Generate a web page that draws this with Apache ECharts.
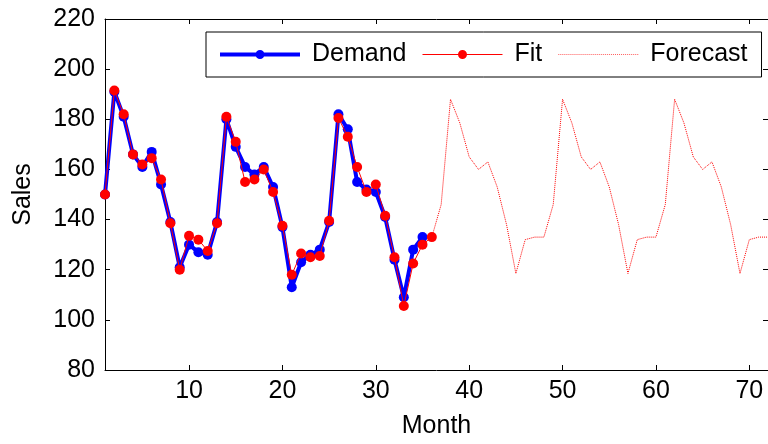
<!DOCTYPE html>
<html>
<head>
<meta charset="utf-8">
<script src="https://cdn.jsdelivr.net/npm/echarts@6/dist/echarts.min.js"></script>
<style>html,body{margin:0;padding:0;background:#fff;}#c{width:768px;height:444px;}</style>
</head>
<body>
<div id="c"></div>
<script>
// Data
var demandStart = 1;
var demand = [150, 191, 181, 166, 161, 167, 154, 139, 121, 130, 127, 126, 139, 180, 169, 161, 158, 161, 153, 137, 113, 123, 126, 128, 139, 182, 176, 155, 152, 151, 141, 124, 109, 128, 133];
var fitStart = 1;
var fit = [150, 191.5, 182, 166, 162, 164.5, 156, 138.5, 120, 133.5, 132, 127.5, 138.5, 181, 171, 155, 156, 160, 151, 137.5, 118, 126.5, 125, 125.5, 139.5, 180.5, 173, 161, 151, 154, 141.5, 125, 105.5, 122.5, 130, 133];
var forecastStart = 36;
var forecast = [133, 146, 188, 178.5, 165, 160, 163, 153, 138, 118.5, 132, 133,
                133, 146, 188, 178.5, 165, 160, 163, 153, 138, 118.5, 132, 133,
                133, 146, 188, 178.5, 165, 160, 163, 153, 138, 118.5, 132, 133, 133];
var xTicks = [10, 20, 30, 40, 50, 60, 70];
var seriesNames = ['Demand', 'Fit', 'Forecast'];

function pairs(start, arr) { return arr.map(function (v, i) { return [start + i, v]; }); }

// legend icon shapes (line sample + marker), drawn as filled paths
var CIRCLE = 'M35.5,5A4.5,4.5 0 1 1 44.5,5A4.5,4.5 0 1 1 35.5,5Z';
var iconDemand = 'path://M0,3H80V7H0Z ' + CIRCLE;
var iconFit = 'path://M0,4.45H80V5.55H0Z ' + CIRCLE;
var dots = [];
for (var d = 0; d < 80; d += 2) { dots.push('M' + d + ',4.5h1v1h-1Z'); }
var iconForecast = 'path://' + dots.join(' ');

var FONT = 'Liberation Sans, Arial, Helvetica, sans-serif';
var FS = 25;
var chart = echarts.init(document.getElementById('c'), null, { renderer: 'canvas' });
var axisLine = { show: true, onZero: false, lineStyle: { color: '#000', width: 1 } };
chart.setOption({
  animation: false,
  backgroundColor: '#fff',
  textStyle: { fontFamily: FONT },
  grid: { left: 105, right: -5, top: 19, bottom: 67, containLabel: false },
  legend: {
    data: [
      { name: seriesNames[0], icon: iconDemand, itemStyle: { color: '#0000ff', borderWidth: 0 } },
      { name: seriesNames[1], icon: iconFit, itemStyle: { color: '#ff0000', borderWidth: 0 } },
      { name: seriesNames[2], icon: iconForecast, itemStyle: { color: '#ff6060', borderWidth: 0 } }
    ],
    left: 206, top: 32,
    padding: [10, 14, 10, 14],
    itemGap: 16,
    itemWidth: 80, itemHeight: 9,
    borderColor: '#000', borderWidth: 1,
    backgroundColor: '#fff',
    textStyle: { fontSize: FS, color: '#000', fontFamily: FONT, padding: [0, 0, 0, 7] }
  },
  xAxis: [{
    type: 'value', min: 1, max: 72,
    axisLine: axisLine,
    splitLine: { show: false },
    axisTick: { show: true, inside: true, length: 5, customValues: xTicks, lineStyle: { color: '#000' } },
    axisLabel: { show: true, customValues: xTicks, fontSize: FS, color: '#000', margin: 9, fontFamily: FONT },
    name: 'Month', nameLocation: 'middle', nameGap: 44,
    nameTextStyle: { fontSize: FS, color: '#000', fontFamily: FONT }
  }, {
    type: 'value', min: 1, max: 72, position: 'top',
    axisLine: axisLine,
    splitLine: { show: false },
    axisTick: { show: true, inside: true, length: 5, customValues: xTicks, lineStyle: { color: '#000' } },
    axisLabel: { show: false }
  }],
  yAxis: [{
    type: 'value', min: 80, max: 220, interval: 20,
    axisLine: axisLine,
    splitLine: { show: false },
    axisTick: { show: true, inside: true, length: 5, lineStyle: { color: '#000' } },
    axisLabel: { fontSize: FS, color: '#000', margin: 10, fontFamily: FONT },
    name: 'Sales', nameLocation: 'middle', nameGap: 69,
    nameTextStyle: { fontSize: FS, color: '#000', fontFamily: FONT }
  }, {
    type: 'value', min: 80, max: 220, interval: 20, position: 'right',
    axisLine: axisLine,
    splitLine: { show: false },
    axisTick: { show: true, inside: true, length: 5, lineStyle: { color: '#000' } },
    axisLabel: { show: false }
  }],
  series: [{
    name: seriesNames[0], type: 'line',
    data: pairs(demandStart, demand),
    symbol: 'circle', symbolSize: 10,
    itemStyle: { color: '#0000ff' },
    lineStyle: { color: '#0000ff', width: 4 },
    z: 2
  }, {
    name: seriesNames[1], type: 'line',
    data: pairs(fitStart, fit),
    symbol: 'circle', symbolSize: 10,
    itemStyle: { color: '#ff0000' },
    lineStyle: { color: '#ff0000', width: 1 },
    z: 3
  }, {
    name: seriesNames[2], type: 'line',
    data: pairs(forecastStart, forecast),
    symbol: 'none',
    itemStyle: { color: '#ff0000' },
    lineStyle: { color: '#ff0000', width: 1, type: [1, 1] },
    z: 3
  }]
});
</script>
</body>
</html>
